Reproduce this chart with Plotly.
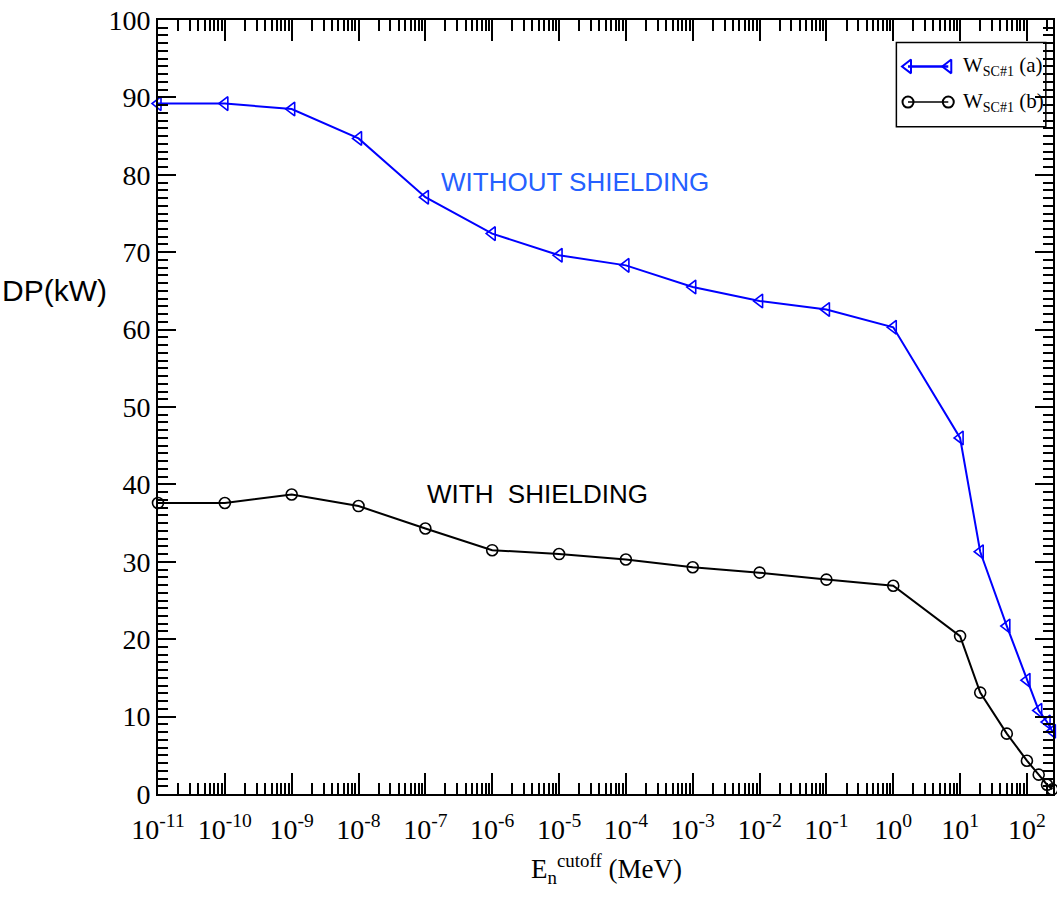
import plotly.graph_objects as go

# Neutron cutoff energy (MeV) and deposited power (kW)
energy_cutoff = [1e-11, 1e-10, 1e-9, 1e-8, 1e-7, 1e-6, 1e-5, 1e-4, 1e-3, 1e-2,
                 1e-1, 1e0, 1e1, 2e1, 5e1, 1e2, 1.5e2, 2e2, 2.4e2]
power_without_shielding = [89.2, 89.2, 88.5, 84.7, 77.1, 72.4, 69.6, 68.3, 65.5, 63.7,
                           62.6, 60.3, 46.0, 31.3, 21.7, 14.7, 10.8, 9.3, 8.1]
power_with_shielding = [37.6, 37.6, 38.7, 37.2, 34.3, 31.5, 31.0, 30.3, 29.3, 28.6,
                        27.7, 26.9, 20.4, 13.1, 7.8, 4.3, 2.5, 1.2, 0.6]

x_tick_exponents = list(range(-11, 3))
x_tick_labels = [f"10<sup>{e}</sup>" for e in x_tick_exponents]
y_tick_values = list(range(0, 101, 10))

legend_labels = [
    "W<sub><span style='font-size:14px'>SC#1</span></sub> (a)",
    "W<sub><span style='font-size:14px'>SC#1</span></sub> (b)",
]

SERIF = "Liberation Serif, Times New Roman, serif"
SANS = "Liberation Sans, Arial, sans-serif"
BLUE = "#0000ff"

# plot-area pixel frame used to place free text in paper coordinates
PLOT_LEFT, PLOT_TOP, PLOT_W, PLOT_H = 158, 19.5, 897, 775


def px_to_paper(px, py):
    return (px - PLOT_LEFT) / PLOT_W, (PLOT_TOP + PLOT_H - py) / PLOT_H


fig = go.Figure()

fig.add_trace(go.Scatter(
    x=energy_cutoff, y=power_without_shielding, mode="lines+markers",
    line=dict(color=BLUE, width=2),
    marker=dict(symbol="triangle-left-open", size=12, color=BLUE, line=dict(width=1.6)),
    cliponaxis=False, showlegend=False,
))
fig.add_trace(go.Scatter(
    x=energy_cutoff, y=power_with_shielding, mode="lines+markers",
    line=dict(color="black", width=2),
    marker=dict(symbol="circle-open", size=11, color="black", line=dict(width=1.6)),
    cliponaxis=False, showlegend=False,
))

# Legend box drawn on an overlay axis spanning the plot area
leg_x = [0.838, 0.883]
leg_y = [0.940, 0.894]
fig.add_trace(go.Scatter(
    x=leg_x, y=[leg_y[0]] * 2, xaxis="x2", yaxis="y2", mode="lines+markers",
    line=dict(color=BLUE, width=2.5),
    marker=dict(symbol="triangle-left-open", size=12, color=BLUE, line=dict(width=2)),
    showlegend=False, hoverinfo="skip",
))
fig.add_trace(go.Scatter(
    x=leg_x, y=[leg_y[1]] * 2, xaxis="x2", yaxis="y2", mode="lines+markers",
    line=dict(color="black", width=1.5),
    marker=dict(symbol="circle-open", size=11, color="black", line=dict(width=2)),
    showlegend=False, hoverinfo="skip",
))
fig.add_shape(type="rect", xref="paper", yref="paper",
              x0=0.825, x1=0.992, y0=0.862, y1=0.971,
              line=dict(color="black", width=1.5), fillcolor="rgba(0,0,0,0)")
for label, ly in zip(legend_labels, leg_y):
    fig.add_annotation(x=0.897, y=ly, xref="paper", yref="paper", text=label,
                       showarrow=False, xanchor="left", yanchor="middle",
                       font=dict(family=SERIF, size=21, color="black"))


def add_text(px, py, text, font, xanchor="center"):
    ax, ay = px_to_paper(px, py)
    fig.add_annotation(x=ax, y=ay, xref="paper", yref="paper", text=text,
                       showarrow=False, xanchor=xanchor, yanchor="middle", font=font)


add_text(576, 182, "WITHOUT SHIELDING", dict(family=SANS, size=26, color="#2560ff"))
add_text(538, 494, "WITH  SHIELDING", dict(family=SANS, size=26, color="black"))
add_text(0, 290, "DP(kW)", dict(family=SANS, size=30, color="black"), xanchor="left")
add_text(608, 870, "E<sub>n</sub><sup>cutoff</sup> (MeV)", dict(family=SERIF, size=27, color="black"))

fig.update_layout(
    width=1057, height=899,
    margin=dict(l=PLOT_LEFT, r=2, t=PLOT_TOP, b=899 - PLOT_TOP - PLOT_H),
    paper_bgcolor="white", plot_bgcolor="white",
    xaxis=dict(
        type="log", range=[-11, 2.39],
        tickvals=[10.0 ** e for e in x_tick_exponents], ticktext=x_tick_labels,
        ticks="inside", ticklen=21, tickwidth=2, tickcolor="black",
        minor=dict(ticks="inside", ticklen=11, tickwidth=1.5, tickcolor="black",
                   dtick="D1", showgrid=False),
        showline=True, linecolor="black", linewidth=2, mirror="allticks",
        showgrid=False, zeroline=False, ticklabelstandoff=9,
        tickfont=dict(family=SERIF, size=28, color="black"),
    ),
    yaxis=dict(
        range=[0, 100], tickvals=y_tick_values,
        ticks="inside", ticklen=18, tickwidth=2, tickcolor="black",
        minor=dict(ticks="inside", ticklen=10, tickwidth=2, tickcolor="black",
                   dtick=1, showgrid=False),
        showline=True, linecolor="black", linewidth=2, mirror="allticks",
        showgrid=False, zeroline=False,
        tickfont=dict(family=SERIF, size=28, color="black"),
    ),
    xaxis2=dict(overlaying="x", range=[0, 1], visible=False, fixedrange=True),
    yaxis2=dict(overlaying="y", range=[0, 1], visible=False, fixedrange=True),
)

fig.write_html("out.html")
